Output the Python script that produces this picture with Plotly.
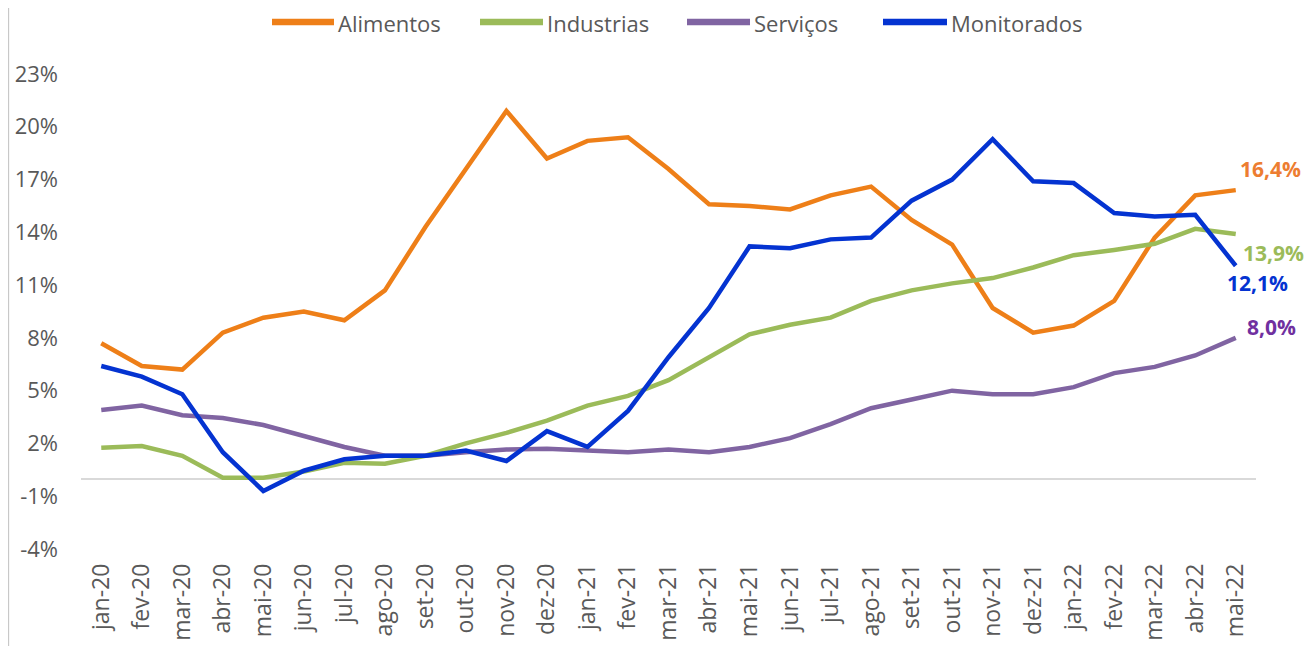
import plotly.graph_objects as go

months = ["jan-20","fev-20","mar-20","abr-20","mai-20","jun-20","jul-20","ago-20","set-20","out-20","nov-20","dez-20",
          "jan-21","fev-21","mar-21","abr-21","mai-21","jun-21","jul-21","ago-21","set-21","out-21","nov-21","dez-21",
          "jan-22","fev-22","mar-22","abr-22","mai-22"]

alimentos = [7.7, 6.4, 6.2, 8.3, 9.15, 9.5, 9.0, 10.7, 14.3, 17.6, 20.9, 18.2,
             19.2, 19.4, 17.6, 15.6, 15.5, 15.3, 16.1, 16.6, 14.7, 13.3, 9.7, 8.3,
             8.7, 10.1, 13.7, 16.1, 16.4]
industrias = [1.75, 1.85, 1.3, 0.05, 0.05, 0.4, 0.9, 0.85, 1.3, 2.0, 2.6, 3.3,
              4.15, 4.7, 5.6, 6.9, 8.2, 8.75, 9.15, 10.1, 10.7, 11.1, 11.4, 12.0,
              12.7, 13.0, 13.35, 14.2, 13.9]
servicos = [3.9, 4.15, 3.6, 3.45, 3.05, 2.4, 1.8, 1.3, 1.3, 1.5, 1.65, 1.7,
            1.6, 1.5, 1.65, 1.5, 1.8, 2.3, 3.1, 4.0, 4.5, 5.0, 4.8, 4.8,
            5.2, 6.0, 6.35, 7.0, 8.0]
monitorados = [6.4, 5.8, 4.8, 1.5, -0.7, 0.45, 1.1, 1.3, 1.3, 1.6, 1.0, 2.7,
               1.8, 3.85, 6.9, 9.7, 13.2, 13.1, 13.6, 13.7, 15.8, 17.0, 19.3, 16.9,
               16.8, 15.1, 14.9, 15.0, 12.1]

y_ticks = [-4, -1, 2, 5, 8, 11, 14, 17, 20, 23]
y_tick_labels = [f"{v}%" for v in y_ticks]

names = ["Alimentos", "Industrias", "Serviços", "Monitorados"]
colors = ["#EE7F18", "#9BBB59", "#8064A2", "#0433D1"]
label_colors = ["#ED7D31", "#9BBB59", "#7030A0", "#0433D1"]
values = [alimentos, industrias, servicos, monitorados]

# page offset (body margin) and figure geometry
OFF = 8
W, H = 1314 - OFF, 646 - OFF
L, R, T, B = 81 - OFF, 58, 74 - OFF, 97
pw, ph = W - L - R, H - T - B

def px_x(wx):
    return (wx - OFF - L) / pw

def px_y(wy):
    return (H - B - (wy - OFF)) / ph

fig = go.Figure()
for name, vals, col in zip(names, values, colors):
    fig.add_trace(go.Scatter(x=months, y=vals, name=name, mode="lines",
                             line=dict(color=col, width=4.5), showlegend=False))

# end-of-series labels
shifts = {"Alimentos": (35, 21), "Industrias": (38, -19), "Serviços": (36, 11), "Monitorados": (22, -17)}
for name, vals, col in zip(names, values, label_colors):
    xs, ys = shifts[name]
    fig.add_annotation(x=months[-1], y=vals[-1], text=f"<b>{vals[-1]:.1f}%</b>".replace(".", ","),
                       showarrow=False, xshift=xs, yshift=ys,
                       font=dict(family="Open Sans", size=21, color=col))

# custom legend (long line samples like the original)
legend_pos = [(272, 334), (480, 543), (687, 750), (883, 947)]
leg_y = 23
for (x0, x1), name, col in zip(legend_pos, names, colors):
    fig.add_shape(type="line", xref="paper", yref="paper",
                  x0=px_x(x0), x1=px_x(x1), y0=px_y(leg_y - 1), y1=px_y(leg_y - 1),
                  line=dict(color=col, width=6.5))
    fig.add_annotation(xref="paper", yref="paper", x=px_x(x1 + 2), y=px_y(leg_y),
                       xanchor="left", yanchor="middle", showarrow=False, text=name,
                       font=dict(family="Open Sans", size=22, color="#595959"))

# left border of chart area
fig.add_shape(type="line", xref="paper", yref="paper",
              x0=-L / pw + 0.4 / pw, x1=-L / pw + 0.4 / pw, y0=-B / ph, y1=1 + T / ph,
              line=dict(color="#C8C8C8", width=1.5))

fig.update_layout(
    width=W, height=H,
    margin=dict(l=L, r=R, t=T, b=B, autoexpand=False),
    plot_bgcolor="white", paper_bgcolor="white",
    showlegend=False,
    xaxis=dict(type="category", range=[-0.5, 28.5], showgrid=False, showline=False,
               tickangle=-90, ticks="", automargin=False, ticklabelstandoff=9,
               tickfont=dict(family="Open Sans", size=23, color="#595959")),
    yaxis=dict(range=[-4, 23], tickvals=y_ticks, ticktext=y_tick_labels,
               showgrid=False, showline=False, zeroline=True,
               zerolinecolor="#D9D9D9", zerolinewidth=2, automargin=False,
               ticklabelstandoff=22,
               tickfont=dict(family="Open Sans", size=22, color="#595959")),
)

fig.write_html("out.html")
